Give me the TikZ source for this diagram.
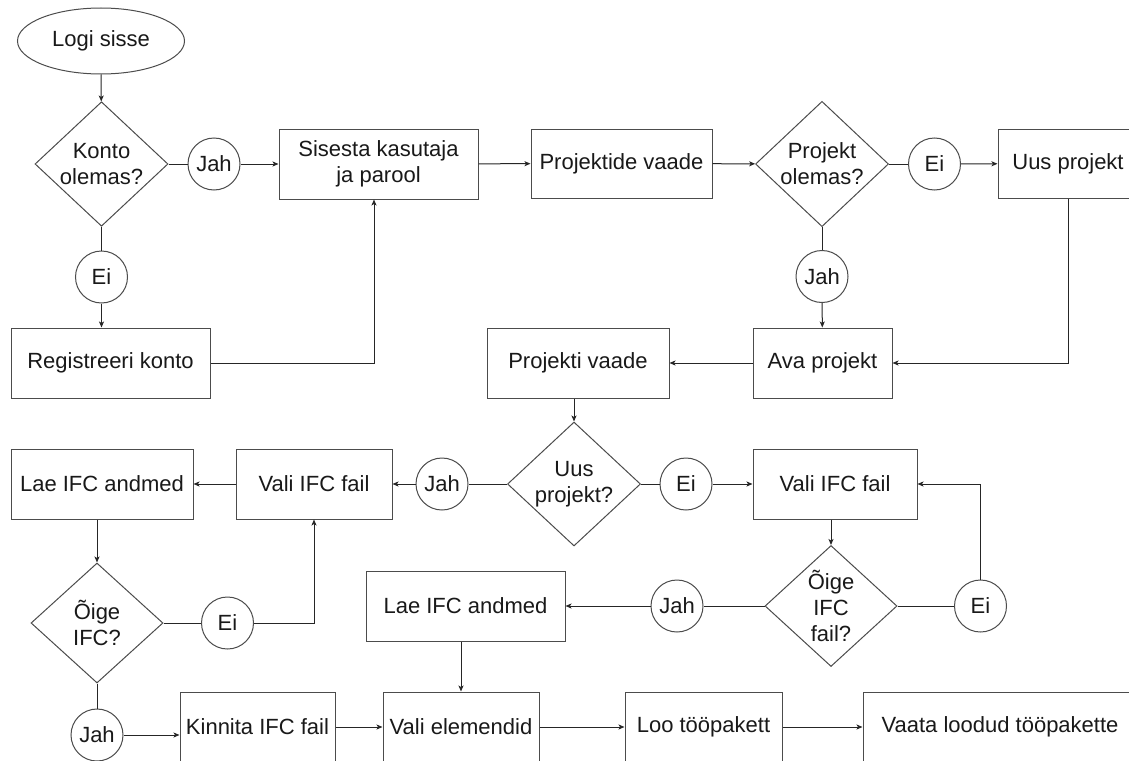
\documentclass[tikz,border=0pt]{standalone}
\usepackage{fontspec}
\setmainfont{Liberation Sans}
\usetikzlibrary{arrows.meta,positioning,calc,shapes.geometric}

\begin{document}
\begin{tikzpicture}[x=1pt,y=-1pt,
  every node/.style={font=\fontsize{22}{26}\selectfont,text=black!90},
  box/.style={draw=black!70,line width=1pt,inner sep=2pt,align=center,minimum height=70pt},
  dia/.style={diamond,draw=black!70,line width=1pt,inner sep=0pt,align=center,minimum width=133pt,minimum height=121pt},
  ans/.style={circle,draw=black!70,line width=1pt,inner sep=0pt,minimum size=52pt},
  ln/.style={black!85,line width=1pt},
  arr/.style={ln,-{Stealth[length=6pt,width=5pt,inset=1.5pt]}}]
 \useasboundingbox (0,0) rectangle (1129,760);
 \fill[white] (0,0) rectangle (1129,760);
 \clip (0,0) rectangle (1129,760);
 % top row
 \node[ellipse,draw=black!70,line width=1pt,minimum width=167pt,minimum height=66pt] (st) at (101,41) {Logi sisse};
 \node[dia] (K)  at (101.5,164) {Konto\\olemas?};
 \node[ans] (j1) at (214,164) {Jah};
 \node[box,minimum width=199pt] (S)  at (378.5,164) {Sisesta kasutaja\\ja parool};
 \node[box,minimum width=181pt,minimum height=69pt] (PV) at (621.5,163.5) {Projektide vaade};
 \node[dia] (P)  at (822,164) {Projekt\\olemas?};
 \node[ans] (e1) at (934.5,164) {Ei};
 \node[box,minimum width=140pt,minimum height=69pt] (U) at (1068,163.5) {Uus projekt};
 % second row
 \node[ans] (e0) at (101.5,277) {Ei};
 \node[box,minimum width=199pt] (R)  at (110.5,363) {Registreeri konto};
 \node[ans] (j2) at (822,276.5) {Jah};
 \node[box,minimum width=139pt] (A)  at (822.5,363) {Ava projekt};
 \node[box,minimum width=182pt] (PJ) at (578,363) {Projekti vaade};
 % third row
 \node[dia] (D)  at (574,484) {Uus\\projekt?};
 \node[ans] (j3) at (442,484) {Jah};
 \node[box,minimum width=156pt] (VL) at (314,484) {Vali IFC fail};
 \node[box,minimum width=182pt] (LL) at (102,484) {Lae IFC andmed};
 \node[ans] (e3) at (686,484) {Ei};
 \node[box,minimum width=164pt] (VR) at (835,484) {Vali IFC fail};
 % fourth row
 \node[dia,minimum width=132pt] (OR) at (831,606) {Õige\\IFC\\fail?};
 \node[ans] (j4) at (677,606) {Jah};
 \node[ans] (e4) at (980.5,606) {Ei};
 \node[box,minimum width=199pt] (LM) at (465.5,606) {Lae IFC andmed};
 \node[dia,minimum width=132pt,minimum height=120pt] (OL) at (97,623) {Õige\\IFC?};
 \node[ans] (e5) at (227.5,623) {Ei};
 % bottom row
 \node[ans] (j5) at (97,735) {Jah};
 \node[box,minimum width=155pt] (KI) at (257.5,727) {Kinnita IFC fail};
 \node[box,minimum width=156pt] (VE) at (461,727) {Vali elemendid};
 \node[box,minimum width=157pt] (LT) at (703.5,727) {Loo tööpakett};
 \node[box,minimum width=274pt] (VT) at (1000,727) {Vaata loodud tööpakette};
 % connectors
 \draw[arr] (st) -- (K);
 \draw[ln] (K) -- (j1); \draw[arr] (j1) -- (S);
 \draw[ln] (K) -- (e0); \draw[arr] (e0) -- (e0 |- R.north);
 \draw[arr] (R.east) -| ([xshift=-4.5pt]S.south);
 \draw[arr] (S) -- (PV);
 \draw[arr] (PV) -- (P);
 \draw[ln] (P) -- (e1); \draw[arr] (e1) -- (U);
 \draw[ln] (P) -- (j2); \draw[arr] (j2) -- (A);
 \draw[arr] (U.south) |- (A.east);
 \draw[arr] (A) -- (PJ);
 \draw[arr] (D.north |- PJ.south) -- (D.north);
 \draw[ln] (D) -- (j3); \draw[arr] (j3) -- (VL); \draw[arr] (VL) -- (LL);
 \draw[ln] (D) -- (e3); \draw[arr] (e3) -- (VR);
 \draw[arr] (OR.north |- VR.south) -- (OR.north);
 \draw[ln] (OR) -- (j4); \draw[arr] (j4) -- (LM);
 \draw[ln] (OR) -- (e4); \draw[arr] (e4.north) |- (VR.east);
 \draw[arr] (VE.north |- LM.south) -- (VE.north);
 \draw[arr] (OL.north |- LL.south) -- (OL.north);
 \draw[ln] (OL) -- (e5); \draw[arr] (e5.east) -| (VL.south);
 \draw[ln] (OL) -- (j5); \draw[arr] (j5) -- (j5 -| KI.west);
 \foreach \a/\b in {KI/VE,VE/LT,LT/VT} \draw[arr] (\a) -- (\b);
\end{tikzpicture}
\end{document}
